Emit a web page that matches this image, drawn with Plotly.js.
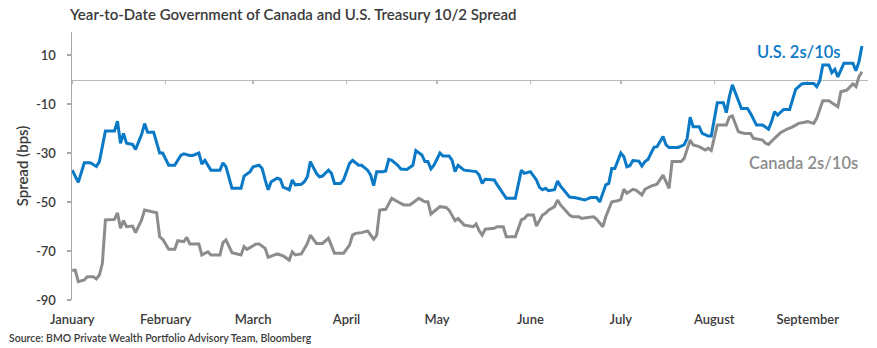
<!DOCTYPE html>
<html>
<head>
<meta charset="utf-8">
<script src="https://cdn.plot.ly/plotly-3.0.1.min.js"></script>
<style>html,body{margin:0;padding:0;background:#fff;}#chart{width:877px;height:348px;}</style>
</head>
<body>
<div id="chart"></div>
<script>
// ---- Data (bps) ----
const usDates = ["2024-01-01","2024-01-03","2024-01-05","2024-01-07","2024-01-09","2024-01-10","2024-01-12","2024-01-15","2024-01-16","2024-01-17","2024-01-18","2024-01-19","2024-01-21","2024-01-22","2024-01-24","2024-01-25","2024-01-26","2024-01-28","2024-01-30","2024-01-31",
"2024-02-02","2024-02-04","2024-02-06","2024-02-07","2024-02-09","2024-02-10","2024-02-12","2024-02-13","2024-02-14","2024-02-16","2024-02-19","2024-02-20","2024-02-21","2024-02-23","2024-02-26","2024-02-27","2024-02-29",
"2024-03-01","2024-03-03","2024-03-04","2024-03-05","2024-03-06","2024-03-07","2024-03-09","2024-03-10","2024-03-11","2024-03-12","2024-03-13","2024-03-14","2024-03-15","2024-03-17","2024-03-18","2024-03-19","2024-03-20","2024-03-22","2024-03-23","2024-03-24","2024-03-26","2024-03-27","2024-03-28","2024-03-30","2024-03-31",
"2024-04-02","2024-04-03","2024-04-05","2024-04-06","2024-04-08","2024-04-09","2024-04-10","2024-04-11","2024-04-13","2024-04-14","2024-04-15","2024-04-16","2024-04-18","2024-04-19","2024-04-21","2024-04-23","2024-04-24","2024-04-26","2024-04-27","2024-04-28","2024-04-29","2024-04-30",
"2024-05-02","2024-05-03","2024-05-05","2024-05-06","2024-05-07","2024-05-08","2024-05-10","2024-05-12","2024-05-14","2024-05-15","2024-05-16","2024-05-17","2024-05-20","2024-05-21","2024-05-22","2024-05-24","2024-05-27","2024-05-28","2024-05-29","2024-05-30",
"2024-06-01","2024-06-03","2024-06-04","2024-06-05","2024-06-06","2024-06-07","2024-06-09","2024-06-10","2024-06-11","2024-06-12","2024-06-14","2024-06-16","2024-06-19","2024-06-21","2024-06-23","2024-06-24","2024-06-26","2024-06-27","2024-06-28","2024-06-29",
"2024-07-01","2024-07-02","2024-07-03","2024-07-04","2024-07-05","2024-07-07","2024-07-08","2024-07-09","2024-07-10","2024-07-12","2024-07-13","2024-07-15","2024-07-16","2024-07-17","2024-07-20","2024-07-22","2024-07-23","2024-07-24","2024-07-25","2024-07-27","2024-07-28","2024-07-30","2024-07-31",
"2024-08-02","2024-08-04","2024-08-05","2024-08-06","2024-08-07","2024-08-08","2024-08-10","2024-08-12","2024-08-13","2024-08-15","2024-08-17","2024-08-19","2024-08-20","2024-08-21","2024-08-22","2024-08-24","2024-08-26","2024-08-28","2024-08-30","2024-08-31",
"2024-09-03","2024-09-04","2024-09-05","2024-09-06","2024-09-08","2024-09-09","2024-09-10","2024-09-11","2024-09-13","2024-09-16","2024-09-17","2024-09-18","2024-09-19"];
const usSpread = [-37,-42,-34,-34,-35.5,-33.5,-21,-21,-17,-26,-22,-26,-26.5,-28.5,-22.5,-18,-21.5,-21.5,-30,-30,
-35,-35,-31,-30.3,-31,-31,-30,-34.5,-33,-37,-37,-34,-35.6,-44.4,-44.4,-39.4,-37.6,
-35.6,-35,-36.3,-41,-45,-41.7,-40.3,-40.7,-44,-44.4,-45,-41,-43,-42.8,-41.7,-39.7,-33.5,-38.3,-39.7,-39.4,-37,-38.3,-42.4,-42.4,-41,
-34.2,-33,-35,-35,-37,-39,-43.3,-37.6,-37.6,-37.3,-32.6,-33,-35,-36.5,-36.7,-35,-29,-30.8,-33.5,-33.5,-36.5,-35,
-30,-31.2,-31.2,-32.9,-37.6,-35,-37,-37.2,-37.6,-39,-42.4,-40.7,-41,-43,-45,-48.5,-48.5,-43,-37,-38.3,
-37.6,-41,-44,-45,-44.4,-45.4,-45,-41.4,-43.5,-45,-48,-48.3,-49.2,-48.2,-48.2,-50,-43,-42.4,-36.3,-36.3,
-30,-31.5,-35.6,-35.2,-33.1,-33.3,-35.3,-33.5,-32.6,-27.7,-27.4,-23.3,-26.7,-27.7,-27.7,-26.7,-24,-15.4,-19.3,-19.3,-22,-23.1,-23.1,
-9.5,-9.5,-13.5,-7,-2.2,-5.6,-11.8,-11.8,-13.8,-18.6,-18.6,-20.3,-17.2,-13.1,-14.5,-12.2,-12.2,-4,-1.8,-1.6,
-1.6,-2.9,-0.5,5.9,5.9,2.8,4.2,1.1,6.6,6.6,3.6,7.3,13.7];

const caDates = ["2024-01-01","2024-01-02","2024-01-03","2024-01-05","2024-01-06","2024-01-08","2024-01-09","2024-01-10","2024-01-11","2024-01-12","2024-01-15","2024-01-16","2024-01-17","2024-01-18","2024-01-19","2024-01-21","2024-01-22","2024-01-24","2024-01-25","2024-01-27","2024-01-29","2024-01-30","2024-01-31",
"2024-02-02","2024-02-04","2024-02-05","2024-02-07","2024-02-08","2024-02-09","2024-02-12","2024-02-13","2024-02-15","2024-02-16","2024-02-19","2024-02-20","2024-02-21","2024-02-23","2024-02-26","2024-02-27","2024-02-28",
"2024-03-01","2024-03-02","2024-03-03","2024-03-05","2024-03-06","2024-03-08","2024-03-09","2024-03-11","2024-03-13","2024-03-14","2024-03-15","2024-03-17","2024-03-19","2024-03-20","2024-03-22","2024-03-24","2024-03-26","2024-03-28","2024-03-31",
"2024-04-02","2024-04-03","2024-04-04","2024-04-06","2024-04-08","2024-04-10","2024-04-11","2024-04-12","2024-04-14","2024-04-16","2024-04-18","2024-04-20","2024-04-22","2024-04-25","2024-04-27","2024-04-28","2024-04-29",
"2024-05-01","2024-05-02","2024-05-04","2024-05-05","2024-05-07","2024-05-08","2024-05-10","2024-05-12","2024-05-13","2024-05-14","2024-05-15","2024-05-16","2024-05-17","2024-05-20","2024-05-21","2024-05-23","2024-05-24","2024-05-27","2024-05-29","2024-05-30","2024-05-31",
"2024-06-02","2024-06-03","2024-06-05","2024-06-06","2024-06-07","2024-06-09","2024-06-10","2024-06-11","2024-06-14","2024-06-15","2024-06-17","2024-06-18","2024-06-20","2024-06-22","2024-06-23","2024-06-25","2024-06-26","2024-06-28","2024-06-30",
"2024-07-01","2024-07-02","2024-07-03","2024-07-05","2024-07-06","2024-07-08","2024-07-09","2024-07-11","2024-07-13","2024-07-15","2024-07-16","2024-07-17","2024-07-18","2024-07-21","2024-07-22","2024-07-24","2024-07-25","2024-07-27","2024-07-29","2024-07-30","2024-07-31",
"2024-08-02","2024-08-05","2024-08-06","2024-08-07","2024-08-09","2024-08-11","2024-08-13","2024-08-14","2024-08-17","2024-08-18","2024-08-19","2024-08-21","2024-08-23","2024-08-25","2024-08-27","2024-08-29",
"2024-09-01","2024-09-03","2024-09-04","2024-09-06","2024-09-08","2024-09-09","2024-09-11","2024-09-12","2024-09-14","2024-09-16","2024-09-17","2024-09-18","2024-09-19"];
const caSpread = [-78,-77.8,-82.5,-81.8,-80.5,-80.5,-81.4,-79.8,-75,-57.3,-57.1,-54.4,-60.7,-57.6,-60.1,-59.8,-62.5,-57.3,-53.3,-53.7,-54.4,-64.2,-65.2,
-69.3,-69.3,-65.8,-66.2,-64.4,-67.1,-67.1,-71.6,-70.3,-71.6,-71.6,-66.6,-65.5,-70.7,-71.6,-68.2,-69.3,
-67.6,-67.1,-67.1,-68.9,-72.6,-71.6,-71.2,-72,-73.7,-70.3,-71.6,-71.2,-66.9,-63.5,-66.9,-66.9,-64.8,-70.9,-70.9,
-67.6,-63.5,-62.8,-62.5,-61.8,-65.2,-63.5,-53.3,-53,-48.5,-49.9,-51.2,-51.2,-48.5,-49.9,-49.9,-54.9,
-53,-51.9,-52.2,-53.3,-57.6,-56.7,-59.4,-59.8,-60.1,-59,-61.7,-63.5,-61.1,-60.7,-60.1,-60.1,-64.2,-64.2,-57.3,-56.7,-55.3,
-55.3,-59.8,-55.3,-54.6,-53.3,-51.9,-49.2,-51.2,-55.3,-56,-56,-56.7,-56.3,-56,-57.1,-60.1,-56,-49.9,-49.5,
-48.9,-44.8,-46.4,-44.8,-45.1,-47.1,-44.8,-43.5,-42.7,-39,-41.7,-44.4,-33.5,-33.5,-32.2,-24.7,-26.7,-27.4,-28.8,-28.1,-29,
-18.6,-18.6,-15.4,-14.9,-21.3,-22,-22,-24,-24.7,-26,-26.5,-24,-21.7,-20.3,-19.3,-17.9,
-17.2,-17.9,-15.8,-8.7,-8.7,-9.5,-11.1,-5,-4.3,-1.8,-2.9,1.1,3.2];

const monthTicks = ["2024-01-01","2024-02-01","2024-03-01","2024-04-01","2024-05-01","2024-06-01","2024-07-01","2024-08-01","2024-09-01"];
const monthLabels = ["January","February","March","April","May","June","July","August","September"];
const yTicks = [10,-10,-30,-50,-70,-90];
const seriesNames = ["U.S. 2s/10s","Canada 2s/10s"];

// ---- Styling ----
const BLUE = "#0a79c6";
const GRAY = "#8c8c8c";
const TXT = "#3a3a3a";
const FONT = "Lato, 'Open Sans', sans-serif";
const xRange = ["2023-12-31 22:00","2024-09-21"];
const yRange = [-90, 19.4];

const traces = [
  {x: caDates, y: caSpread, type: "scatter", mode: "lines", name: seriesNames[1],
   line: {color: GRAY, width: 3}, xaxis: "x", yaxis: "y", hoverinfo: "x+y"},
  {x: usDates, y: usSpread, type: "scatter", mode: "lines", name: seriesNames[0],
   line: {color: BLUE, width: 3}, xaxis: "x2", yaxis: "y", hoverinfo: "x+y"}
];

const layout = {
  width: 877, height: 348,
  margin: {l: 72, r: 9, t: 32, b: 48, pad: 0},
  paper_bgcolor: "#fff", plot_bgcolor: "#fff",
  showlegend: false,
  font: {family: FONT, color: TXT, size: 13},
  title: {text: "Year-to-Date Government of Canada and U.S. Treasury 10/2 Spread",
          x: 70/877, xanchor: "left", xref: "container",
          y: 1 - 15/348, yanchor: "middle", yref: "container",
          font: {family: FONT, size: 15, color: TXT, weight: 600}},
  xaxis: {type: "date", range: xRange, tickmode: "array", tickvals: monthTicks, ticktext: monthLabels,
          showgrid: false, zeroline: false, showline: false, ticks: "",
          ticklabelstandoff: 10,
          tickfont: {family: FONT, size: 13, color: TXT, weight: 600}},
  xaxis2: {type: "date", range: xRange, overlaying: "x", anchor: "free", position: 90/109.4,
           tickmode: "array", tickvals: monthTicks, showticklabels: false,
           showgrid: false, zeroline: false, showline: true, linecolor: "#b8b8b8", linewidth: 1.5,
           ticks: "outside", ticklen: 3, tickwidth: 1.5, tickcolor: "#b8b8b8", layer: "below traces"},
  yaxis: {range: yRange, tickmode: "array", tickvals: yTicks, ticktext: yTicks.map(String),
          showgrid: false, zeroline: false, showline: true, linecolor: "#a8a8a8", linewidth: 1.5,
          ticks: "outside", ticklen: 4, tickwidth: 1.5, tickcolor: "#a8a8a8",
          ticklabelstandoff: 8,
          tickfont: {family: FONT, size: 13, color: TXT, weight: 600},
          title: {text: "Spread (bps)", standoff: 3, font: {family: FONT, size: 15, color: TXT, weight: 600}}},
  annotations: [
    {text: seriesNames[0], xref: "paper", yref: "paper", x: (799-72)/796, y: (300-52)/268,
     xanchor: "center", yanchor: "middle", showarrow: false,
     font: {family: FONT, size: 16.5, color: BLUE, weight: 600}},
    {text: seriesNames[1], xref: "paper", yref: "paper", x: (803-72)/796, y: (300-163)/268,
     xanchor: "center", yanchor: "middle", showarrow: false,
     font: {family: FONT, size: 16.5, color: GRAY, weight: 600}},
    {text: "Source: BMO Private Wealth Portfolio Advisory Team, Bloomberg", xref: "paper", yref: "paper",
     x: (7-72)/796, y: (300-338)/268, xanchor: "left", yanchor: "middle", showarrow: false,
     font: {family: FONT, size: 10.5, color: TXT, weight: 600}}
  ]
};

Plotly.newPlot("chart", traces, layout, {displayModeBar: false, staticPlot: true});
</script>
</body>
</html>
